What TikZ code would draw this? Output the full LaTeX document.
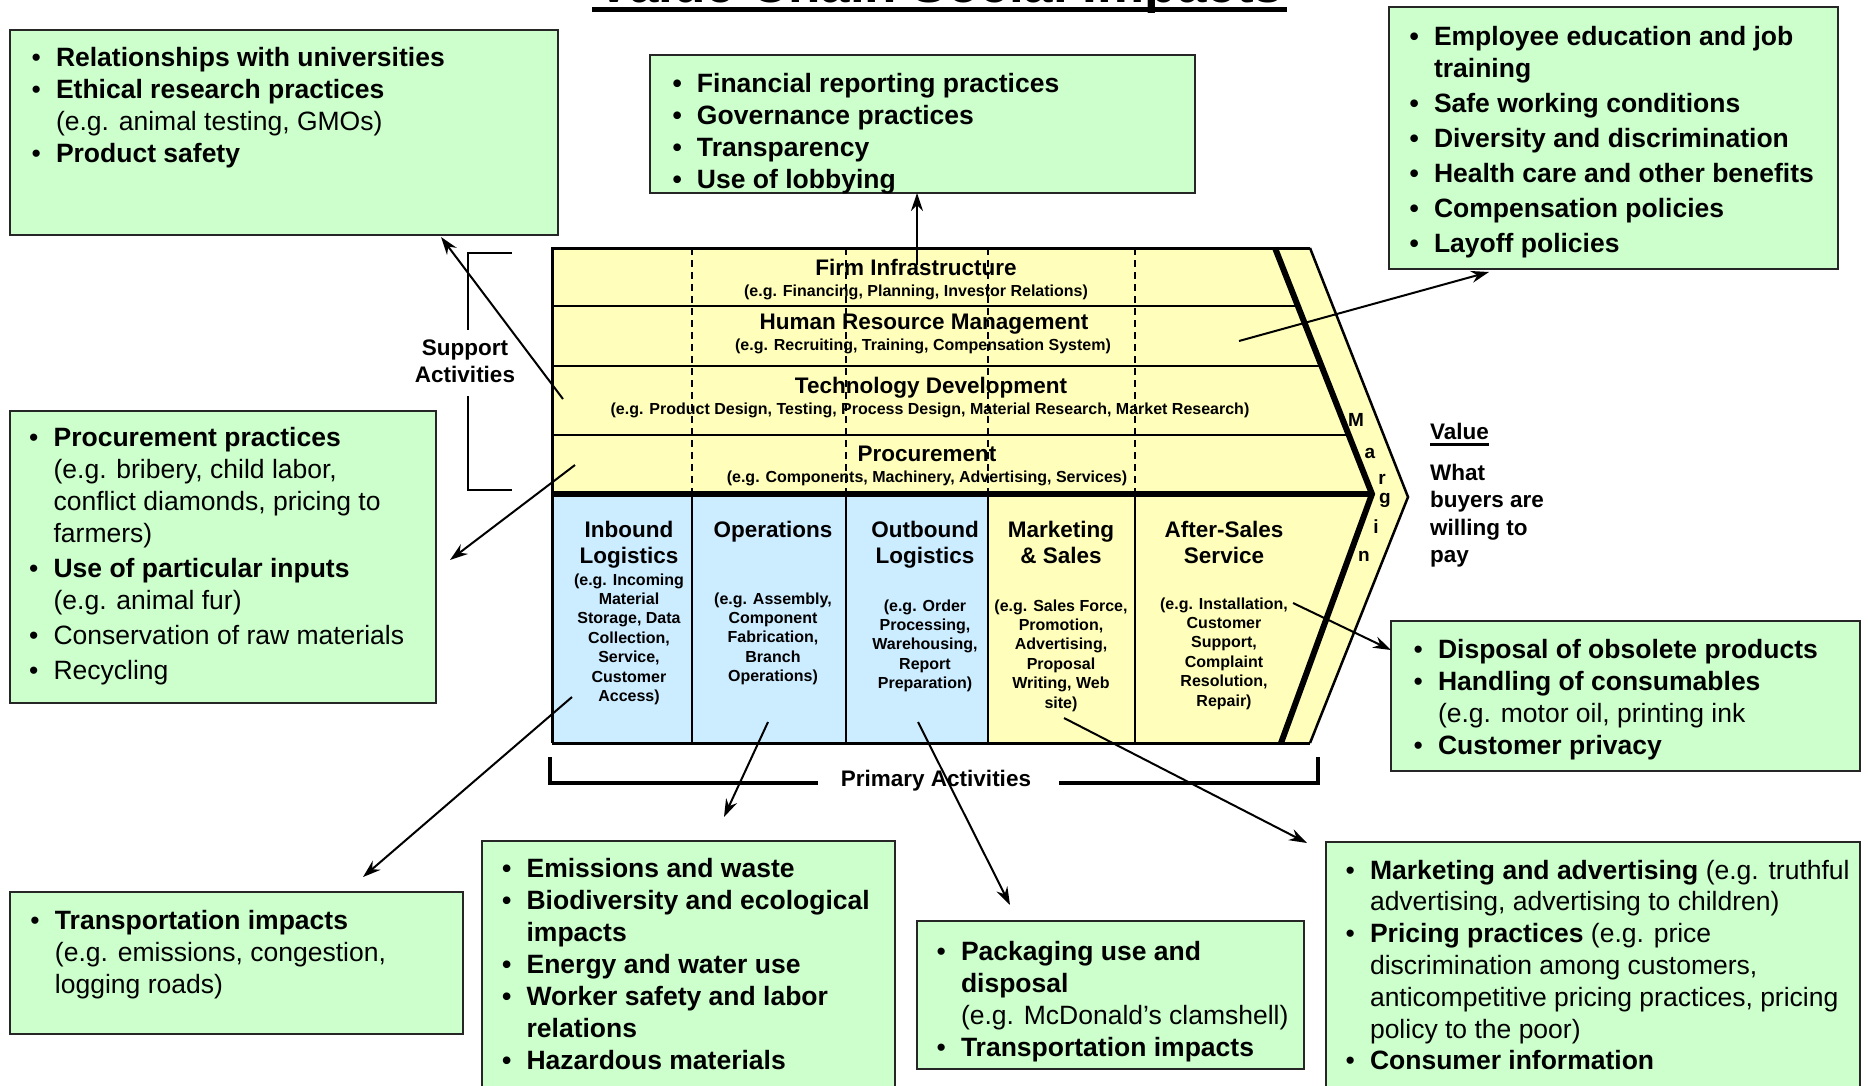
\documentclass[tikz,border=0pt]{standalone}
\usepackage{fontspec}
\setmainfont{Liberation Sans}
\usetikzlibrary{arrows.meta}

\definecolor{boxgreen}{HTML}{CCFFCC}
\definecolor{chainyellow}{HTML}{FFFFBB}
\definecolor{chainblue}{HTML}{CCECFF}

% text sizes
\newcommand{\bigf}{\fontsize{22.5}{26}\selectfont\bfseries}
\newcommand{\smallf}{\fontsize{16}{19.4}\selectfont\bfseries}
\newcommand{\boxf}{\fontsize{26.5}{32.3}\selectfont}
\newcommand{\mgf}{\fontsize{19}{22}\selectfont\bfseries}
% bullet list helpers
\newcommand{\bul}{\hspace*{3.5pt}\makebox[24.5pt][l]{\textbullet}}
\newcommand{\cnt}{\hspace*{28pt}}

\tikzset{
  impact/.style={draw=black!85, line width=2pt, fill=boxgreen, inner sep=0pt, outer sep=0pt, anchor=north west},
  boxtext/.style={anchor=base west, inner sep=0pt, outer sep=0pt},
  coltext/.style={anchor=base, inner sep=0pt, outer sep=0pt},
  conn/.style={line width=2pt, -{Stealth[length=18pt,width=12pt,inset=6pt]}},
  thinrule/.style={line width=1.5pt},
}

\begin{document}
\begin{tikzpicture}[x=1pt,y=-1pt]
\useasboundingbox (0,0) rectangle (1868,1085);
\clip (0,0) rectangle (1868,1085);

% ---------- title ----------
\node[anchor=base, inner sep=0pt, font=\fontsize{53}{60}\selectfont\bfseries] (title) at (940,2.5) {Value Chain Social Impacts};
\fill (592,7) rectangle (1287,12);

% ---------- value chain body ----------
\fill[chainyellow] (552,248) -- (1310,248) -- (1408,497) -- (1310,743) -- (552,743) -- cycle;
\fill[chainblue] (552,494) rectangle (988,743);

% support activity rows
\draw[thinrule] (552,306) -- (1297.9,306);
\draw[thinrule] (552,366) -- (1321.5,366);
\draw[thinrule] (552,435) -- (1348.7,435);

% dashed column guides in the support area, solid ones below
\foreach \cx in {692,846,988,1135} {
  \draw[line width=2pt, dash pattern=on 7pt off 5pt] (\cx,248) -- (\cx,494);
  \draw[thinrule] (\cx,494) -- (\cx,743);
}

% outline
\draw[line width=3pt] (552,743) -- (552,248) -- (1310,248);
\draw[line width=3pt] (552,743) -- (1310,743);
\draw[line width=2.5pt, line join=miter] (1310,248) -- (1408,497) -- (1310,743);
\draw[line width=6pt] (552,494) -- (1372,494);
\draw[line width=6pt, line join=miter] (1275,248) -- (1372,494) -- (1281,743);

% support activity labels
\node[coltext, font=\bigf] (r1t) at (916,275.5) {Firm Infrastructure};
\node[coltext, font=\smallf] (r1s) at (916,296.3) {(e.g. Financing, Planning, Investor Relations)};
\node[coltext, font=\bigf] (r2t) at (924,329.5) {Human Resource Management};
\node[coltext, font=\smallf] (r2s) at (923,350.3) {(e.g. Recruiting, Training, Compensation System)};
\node[coltext, font=\bigf] (r3t) at (931,393.5) {Technology Development};
\node[coltext, font=\smallf] (r3s) at (930,414.3) {(e.g. Product Design, Testing, Process Design, Material Research, Market Research)};
\node[coltext, font=\bigf] (r4t) at (927,461.5) {Procurement};
\node[coltext, font=\smallf] (r4s) at (927,482.3) {(e.g. Components, Machinery, Advertising, Services)};

% primary activity labels
\node[coltext] (c1t) at (629,537.5) {\parbox[t]{150pt}{\centering\bigf Inbound\\Logistics}};
\node[coltext] (c1s) at (629,585) {\parbox[t]{150pt}{\centering\smallf (e.g. Incoming\\Material\\Storage, Data\\Collection,\\Service,\\Customer\\Access)}};
\node[coltext] (c2t) at (773,537.5) {\parbox[t]{150pt}{\centering\bigf Operations}};
\node[coltext] (c2s) at (773,604) {\parbox[t]{150pt}{\centering\smallf (e.g. Assembly,\\Component\\Fabrication,\\Branch\\Operations)}};
\node[coltext] (c3t) at (925,537.5) {\parbox[t]{150pt}{\centering\bigf Outbound\\Logistics}};
\node[coltext] (c3s) at (925,611) {\parbox[t]{150pt}{\centering\smallf (e.g. Order\\Processing,\\Warehousing,\\Report\\Preparation)}};
\node[coltext] (c4t) at (1061,537.5) {\parbox[t]{150pt}{\centering\bigf Marketing\\\& Sales}};
\node[coltext] (c4s) at (1061,611) {\parbox[t]{150pt}{\centering\smallf (e.g. Sales Force,\\Promotion,\\Advertising,\\Proposal\\Writing, Web\\site)}};
\node[coltext] (c5t) at (1224,537.5) {\parbox[t]{150pt}{\centering\bigf After-Sales\\Service}};
\node[coltext] (c5s) at (1224,609) {\parbox[t]{150pt}{\centering\smallf (e.g. Installation,\\Customer\\Support,\\Complaint\\Resolution,\\Repair)}};

% margin lettering
\foreach \ch/\mx/\my [count=\i] in {M/1356/420, a/1370/453, r/1382/479, g/1385/500, i/1376/527, n/1364/556}
  \node[font=\mgf, inner sep=0pt] (mg\i) at (\mx,\my) {\ch};

% value note
\node[boxtext, font=\bigf] (val) at (1430,439.5) {Value};
\draw[line width=2.5pt] ([yshift=-5pt]val.base west) -- ([yshift=-5pt]val.base east);
\node[boxtext] (wtp) at (1430,480.5) {\parbox[t]{150pt}{\fontsize{22.5}{27.3}\selectfont\bfseries What\\buyers are\\willing to\\pay}};

% support activities bracket
\node[coltext] (sup) at (465,355.5) {\parbox[t]{120pt}{\centering\fontsize{22.5}{27}\selectfont\bfseries Support\\Activities}};
\draw[thinrule] (512,253) -- (468,253) -- (468,330);
\draw[thinrule] (468,396) -- (468,490) -- (512,490);

% primary activities bracket
\node[coltext, font=\bigf] (pri) at (936,786.5) {Primary Activities};
\draw[line width=4pt] (550,757) -- (550,783) -- (818,783);
\draw[line width=4pt] (1059,783) -- (1318,783) -- (1318,757);

% ---------- impact boxes ----------
\node[impact, minimum width=548pt, minimum height=205pt] (bx1) at (9.5,30) {};
\node[boxtext] (tx1) at (28,66) {\parbox[t]{600pt}{\boxf
  \bul\textbf{Relationships with universities}\\
  \bul\textbf{Ethical research practices}\\
  \cnt(e.g. animal testing, GMOs)\\
  \bul\textbf{Product safety}}};

\node[impact, minimum width=545pt, minimum height=138pt] (bx2) at (650,55) {};
\node[boxtext] (tx2) at (669,92) {\parbox[t]{600pt}{\boxf\bfseries
  \bul Financial reporting practices\\
  \bul Governance practices\\
  \bul Transparency\\
  \bul Use of lobbying}};

\node[impact, minimum width=449pt, minimum height=262pt] (bx3) at (1389,7) {};
\node[boxtext] (tx3) at (1406,45) {\parbox[t]{600pt}{\fontsize{26.5}{32}\selectfont\bfseries
  \bul Employee education and job\\
  \cnt training\\[3pt]
  \bul Safe working conditions\\[3pt]
  \bul Diversity and discrimination\\[3pt]
  \bul Health care and other benefits\\[3pt]
  \bul Compensation policies\\[3pt]
  \bul Layoff policies}};

\node[impact, minimum width=426.5pt, minimum height=292pt] (bx4) at (9.5,411) {};
\node[boxtext] (tx4) at (25.6,446) {\parbox[t]{600pt}{\fontsize{26.5}{32}\selectfont
  \bul\textbf{Procurement practices}\\
  \cnt(e.g. bribery, child labor,\\
  \cnt conflict diamonds, pricing to\\
  \cnt farmers)\\[3.5pt]
  \bul\textbf{Use of particular inputs}\\
  \cnt(e.g. animal fur)\\[3pt]
  \bul Conservation of raw materials\\[3pt]
  \bul Recycling}};

\node[impact, minimum width=453.5pt, minimum height=142pt] (bx5) at (9.5,892) {};
\node[boxtext] (tx5) at (27,929) {\parbox[t]{600pt}{\fontsize{26.5}{32}\selectfont
  \bul\textbf{Transportation impacts}\\
  \cnt(e.g. emissions, congestion,\\
  \cnt logging roads)}};

\node[impact, minimum width=413pt, minimum height=260pt] (bx6) at (482,841) {};
\node[boxtext] (tx6) at (498.6,877) {\parbox[t]{600pt}{\fontsize{26.5}{32}\selectfont\bfseries
  \bul Emissions and waste\\
  \bul Biodiversity and ecological\\
  \cnt impacts\\
  \bul Energy and water use\\
  \bul Worker safety and labor\\
  \cnt relations\\
  \bul Hazardous materials}};

\node[impact, minimum width=387pt, minimum height=148pt] (bx7) at (917,921) {};
\node[boxtext] (tx7) at (933,960) {\parbox[t]{600pt}{\fontsize{26.5}{32}\selectfont
  \bul\textbf{Packaging use and}\\
  \cnt\textbf{disposal}\\
  \cnt(e.g. McDonald’s clamshell)\\
  \bul\textbf{Transportation impacts}}};

\node[impact, minimum width=469pt, minimum height=150pt] (bx8) at (1391,621) {};
\node[boxtext] (tx8) at (1410,658) {\parbox[t]{600pt}{\boxf
  \bul\textbf{Disposal of obsolete products}\\
  \bul\textbf{Handling of consumables}\\
  \cnt(e.g. motor oil, printing ink\\
  \bul\textbf{Customer privacy}}};

\node[impact, minimum width=534pt, minimum height=260pt] (bx9) at (1326,842) {};
\node[boxtext] (tx9) at (1342,879) {\parbox[t]{600pt}{\fontsize{26.5}{31.8}\selectfont
  \bul\textbf{Marketing and advertising} (e.g. truthful\\
  \cnt advertising, advertising to children)\\
  \bul\textbf{Pricing practices} (e.g. price\\
  \cnt discrimination among customers,\\
  \cnt anticompetitive pricing practices, pricing\\
  \cnt policy to the poor)\\
  \bul\textbf{Consumer information}}};

% ---------- connectors ----------
\coordinate (sFirm) at (917,265);
\coordinate (sHR) at (1239,341);   \coordinate (tHR) at (1489,272);
\coordinate (sTech) at (563,399);  \coordinate (tTech) at (441,237);
\coordinate (sProc) at (575,465);  \coordinate (tProc) at (450,560);
\coordinate (sIn) at (572,697);    \coordinate (tIn) at (363,877);
\coordinate (sOps) at (768,722);   \coordinate (tOps) at (724,817);
\coordinate (sOut) at (918,722);   \coordinate (tOut) at (1010,905);
\coordinate (sMkt) at (1064,718);  \coordinate (tMkt) at (1307,843);
\coordinate (sSvc) at (1293,603);  \coordinate (tSvc) at (1391,650);

\draw[conn] (sFirm) -- (sFirm |- bx2.south);
\draw[conn] (sHR) -- (tHR);
\draw[conn] (sTech) -- (tTech);
\draw[conn] (sProc) -- (tProc);
\draw[conn] (sIn) -- (tIn);
\draw[conn] (sOps) -- (tOps);
\draw[conn] (sOut) -- (tOut);
\draw[conn] (sMkt) -- (tMkt);
\draw[conn] (sSvc) -- (tSvc);
\end{tikzpicture}
\end{document}
